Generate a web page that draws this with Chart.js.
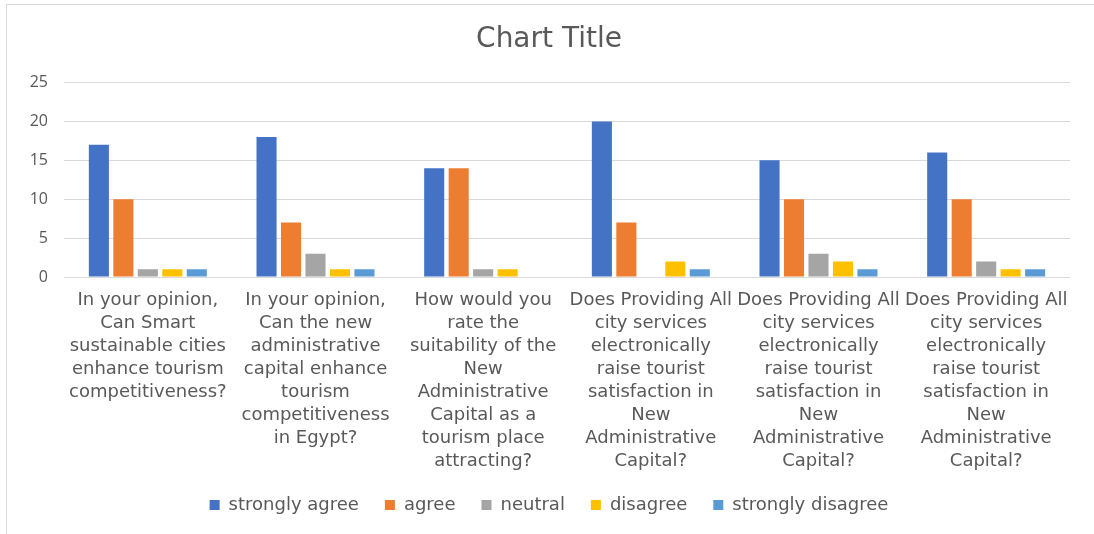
<!DOCTYPE html>
<html>
<head>
<meta charset="utf-8">
<script src="https://cdn.jsdelivr.net/npm/chart.js@4.4.1/dist/chart.umd.min.js"></script>
<style>
  html, body { margin: 0; padding: 0; background: #fff; overflow: hidden; }
  #wrap { position: relative; width: 1094px; height: 534px; }
  #frame { position: absolute; left: 6px; top: 4px; width: 1100px; height: 540px; border: 1px solid #d9d9d9; box-sizing: border-box; }
  canvas { position: absolute; left: 0; top: 0; }
</style>
</head>
<body>
<div id="wrap">
  <div id="frame"></div>
  <canvas id="chart" width="1094" height="534"></canvas>
</div>
<script>
// categories (already wrapped the way the original chart wraps them)
const categories = [
  ['In your opinion,', 'Can Smart', 'sustainable cities', 'enhance tourism', 'competitiveness?'],
  ['In your opinion,', 'Can the new', 'administrative', 'capital enhance', 'tourism', 'competitiveness', 'in Egypt?'],
  ['How would you', 'rate the', 'suitability of the', 'New', 'Administrative', 'Capital as a', 'tourism place', 'attracting?'],
  ['Does Providing All', 'city services', 'electronically', 'raise tourist', 'satisfaction in', 'New', 'Administrative', 'Capital?'],
  ['Does Providing All', 'city services', 'electronically', 'raise tourist', 'satisfaction in', 'New', 'Administrative', 'Capital?'],
  ['Does Providing All', 'city services', 'electronically', 'raise tourist', 'satisfaction in', 'New', 'Administrative', 'Capital?']
];

const stronglyAgree    = [17, 18, 14, 20, 15, 16];
const agree            = [10, 7, 14, 7, 10, 10];
const neutral          = [1, 3, 1, 0, 3, 2];
const disagree         = [1, 1, 1, 2, 2, 1];
const stronglyDisagree = [1, 1, 0, 1, 1, 1];

const seriesNames  = ['strongly agree', 'agree', 'neutral', 'disagree', 'strongly disagree'];
const seriesColors = ['#4472C4', '#ED7D31', '#A5A5A5', '#FFC000', '#5B9BD5'];
const yTicks = [0, 5, 10, 15, 20, 25];

const textGray = '#595959';
const labelFont = 'DejaVu Sans';

const ctx = document.getElementById('chart').getContext('2d');

new Chart(ctx, {
  type: 'bar',
  data: {
    labels: categories,
    datasets: [stronglyAgree, agree, neutral, disagree, stronglyDisagree].map((vals, i) => ({
      label: seriesNames[i],
      data: vals,
      backgroundColor: seriesColors[i],
      borderWidth: 0,
      barPercentage: 0.82,
      categoryPercentage: 0.73
    }))
  },
  options: {
    responsive: false,
    animation: false,
    layout: { padding: { left: 28, right: 24, top: 0, bottom: 10 } },
    plugins: {
      title: {
        display: true,
        text: 'Chart Title',
        color: textGray,
        font: { family: labelFont, size: 28, weight: 'normal', lineHeight: 1.2 },
        padding: { top: 23, bottom: 26 }
      },
      legend: {
        position: 'bottom',
        labels: {
          color: textGray,
          font: { family: labelFont, size: 18 },
          boxWidth: 10,
          boxHeight: 10,
          padding: 26
        }
      },
      tooltip: { enabled: false }
    },
    scales: {
      x: {
        grid: { display: false, drawTicks: false },
        border: { display: false },
        ticks: {
          color: textGray,
          font: { family: labelFont, size: 18, lineHeight: 23 / 18 },
          padding: 12,
          maxRotation: 0,
          autoSkip: false
        },
        afterFit: function(scale) { scale.height = 193; }
      },
      y: {
        min: 0,
        max: 25,
        grid: { color: '#d9d9d9', lineWidth: 1, drawTicks: false },
        border: { display: false },
        afterBuildTicks: function(scale) { scale.ticks = yTicks.map(v => ({ value: v })); },
        ticks: {
          color: textGray,
          font: { family: 'Open Sans', size: 16 },
          padding: 16
        },
        afterFit: function(scale) { scale.width = 36; }
      }
    }
  }
});
</script>
</body>
</html>
